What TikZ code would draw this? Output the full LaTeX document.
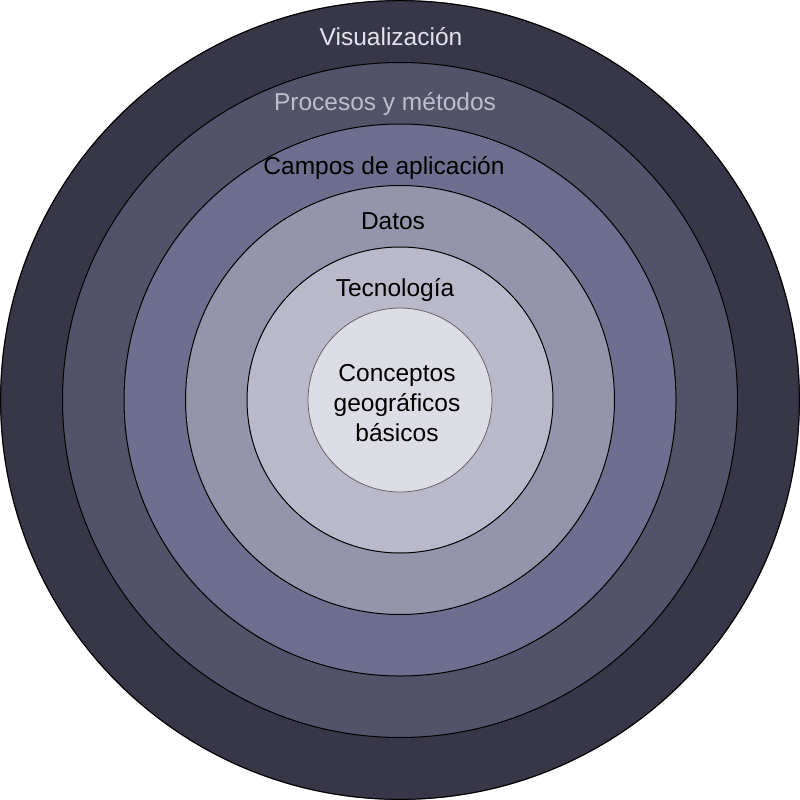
\documentclass[tikz,border=0pt]{standalone}
\usepackage{fontspec}
\setmainfont{Liberation Sans}
\definecolor{c1}{HTML}{383747}
\definecolor{c2}{HTML}{525269}
\definecolor{c3}{HTML}{6E6E8E}
\definecolor{c4}{HTML}{9494AB}
\definecolor{c5}{HTML}{B9B9CA}
\definecolor{c6}{HTML}{DCDCE4}
\definecolor{t1}{HTML}{E2E2EA}
\definecolor{t2}{HTML}{BDBDCB}
\tikzset{ring/.style={draw=black,line width=1pt},
  lab/.style={font=\fontsize{24.5}{30}\selectfont,inner sep=0pt,anchor=center}}
\begin{document}
\begin{tikzpicture}[x=1pt,y=-1pt]
\useasboundingbox (0,0) rectangle (800,800);
\coordinate (o) at (400,400);
\fill[c1] (o) circle (400);
\draw[ring] (o) circle (399.3);
\draw[ring,fill=c2] (o) circle (337.5);
\draw[ring,fill=c3] (o) circle (276);
\draw[ring,fill=c4] (o) circle (214.5);
\draw[ring,fill=c5] (o) circle (153);
\draw[draw=gray!80!black,line width=0.8pt,fill=c6] (o) circle (92);
\node[lab,text=t1] (vis) at (391,36.5) {Visualización};
\node[lab,text=t2] (pro) at (385,104.5) {Procesos y métodos};
\node[lab] (cam) at (384,168.5) {Campos de aplicación};
\node[lab] (dat) at (393,221.5) {Datos};
\node[lab] (tec) at (395,290.5) {Tecnología};
\node[lab,align=center] (con) at (397,403) {Conceptos\\geográficos\\básicos};
\end{tikzpicture}
\end{document}
